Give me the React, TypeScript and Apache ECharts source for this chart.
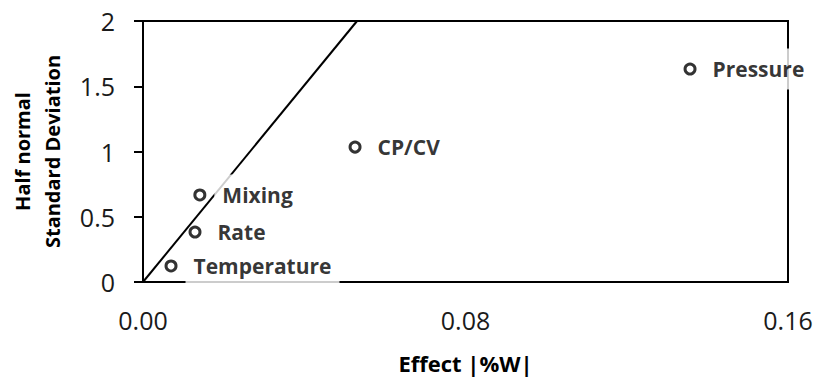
import React, { useEffect, useRef } from "react";
import * as echarts from "echarts";

// Factor effects plotted against half-normal standard deviation
const factorNames = ["Temperature", "Rate", "Mixing", "CP/CV", "Pressure"];
const effectValues = [0.00695, 0.0129, 0.0141, 0.0526, 0.1357];
const halfNormalValues = [0.123, 0.383, 0.667, 1.034, 1.632];

// Reference line through the origin
const refLineX = [0, 0.0531];
const refLineY = [0, 2];

const xTicks = { min: 0, max: 0.16, interval: 0.08 };
const yTicks = { min: 0, max: 2, interval: 0.5 };

const FONT = "'Open Sans', 'DejaVu Sans', sans-serif";
const INK = "#000";

export default function App() {
  const ref = useRef<HTMLDivElement>(null);

  useEffect(() => {
    if (!ref.current) return;
    const chart = echarts.init(ref.current, undefined, { renderer: "svg" });

    const points = factorNames.map((name, i) => ({
      name,
      value: [effectValues[i], halfNormalValues[i]],
    }));
    const line = refLineX.map((x, i) => [x, refLineY[i]]);

    chart.setOption({
      animation: false,
      backgroundColor: "#fff",
      textStyle: { fontFamily: FONT },
      grid: {
        left: 143,
        right: 28,
        top: 21,
        bottom: 99,
        show: true,
        borderColor: INK,
        borderWidth: 2,
        outerBoundsMode: "none",
      },
      xAxis: {
        type: "value",
        min: xTicks.min,
        max: xTicks.max,
        interval: xTicks.interval,
        name: "Effect |%W|",
        nameLocation: "middle",
        nameGap: 70,
        nameTextStyle: {
          fontFamily: FONT,
          fontSize: 22,
          fontWeight: "bold",
          color: INK,
        },
        axisLine: { show: true, lineStyle: { color: INK, width: 2 } },
        axisTick: { show: false },
        splitLine: { show: false },
        axisLabel: {
          margin: 25,
          fontFamily: FONT,
          fontSize: 25,
          color: "#1a1a1a",
          formatter: (v: number) => v.toFixed(2),
        },
      },
      yAxis: {
        type: "value",
        min: yTicks.min,
        max: yTicks.max,
        interval: yTicks.interval,
        name: "Half normal\nStandard Deviation",
        nameLocation: "middle",
        nameGap: 76,
        nameTextStyle: {
          fontFamily: FONT,
          fontSize: 20,
          fontWeight: "bold",
          color: INK,
          lineHeight: 30,
        },
        axisLine: { show: true, lineStyle: { color: INK, width: 2 } },
        axisTick: {
          show: true,
          inside: false,
          length: 9,
          lineStyle: { color: INK, width: 2 },
        },
        splitLine: { show: false },
        axisLabel: {
          margin: 28,
          fontFamily: FONT,
          fontSize: 25,
          color: "#1a1a1a",
        },
      },
      series: [
        {
          type: "line",
          data: line,
          symbol: "none",
          silent: true,
          z: 1,
          lineStyle: { color: INK, width: 2 },
        },
        {
          type: "scatter",
          data: points,
          symbol: "circle",
          symbolSize: 10,
          z: 3,
          itemStyle: {
            color: "#fff",
            borderColor: INK,
            borderWidth: 3,
          },
          label: {
            show: true,
            position: "right",
            distance: 8,
            formatter: "{b}",
            fontFamily: FONT,
            fontSize: 21,
            fontWeight: "bold",
            color: INK,
            backgroundColor: "#fff",
            padding: [10, 8],
          },
        },
      ],
    });

    return () => chart.dispose();
  }, []);

  return (
    <div
      ref={ref}
      style={{ position: "fixed", left: 0, top: 0, width: 816, height: 381 }}
    />
  );
}
